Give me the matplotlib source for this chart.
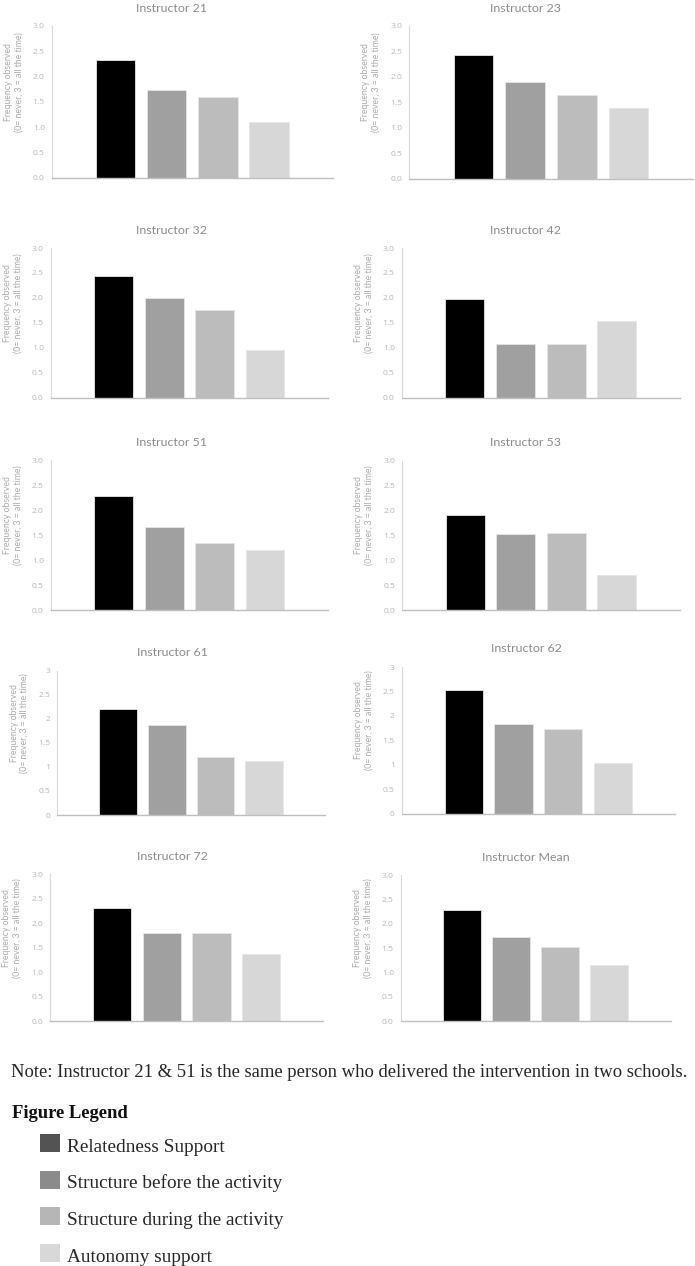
import numpy as np
import matplotlib
matplotlib.use("Agg")
import matplotlib.pyplot as plt
from matplotlib.patches import Rectangle

# --- data ---
instructors = ['Instructor 21', 'Instructor 23', 'Instructor 32', 'Instructor 42',
               'Instructor 51', 'Instructor 53', 'Instructor 61', 'Instructor 62',
               'Instructor 72', 'Instructor Mean']
relatedness = [2.33, 2.43, 2.43, 1.97, 2.29, 1.92, 2.21, 2.52, 2.32, 2.28]
structure_before = [1.73, 1.90, 2.00, 1.08, 1.66, 1.54, 1.88, 1.83, 1.79, 1.72]
structure_during = [1.59, 1.65, 1.76, 1.07, 1.35, 1.56, 1.20, 1.73, 1.79, 1.52]
autonomy = [1.11, 1.38, 0.95, 1.53, 1.21, 0.70, 1.13, 1.03, 1.36, 1.15]

series_names = ['Relatedness Support', 'Structure before the activity',
                'Structure during the activity', 'Autonomy support']
y_ticks = [0, 0.5, 1, 1.5, 2, 2.5, 3]
plain_tick_panels = ['Instructor 61', 'Instructor 62']  # these use "0, 0.5, 1 ..." labels

note = "Note: Instructor 21 & 51 is the same person who delivered the intervention in two schools."

# --- styling ---
bar_colors = ['#000000', '#a0a0a0', '#bcbcbc', '#d7d7d7']
legend_colors = ['#535353', '#8b8b8b', '#b6b6b6', '#d8d8d8']
W, H = 695, 1266

# panel boxes in pixels: x0, x1, y_top, y_bottom
boxes = [
    (51.7, 333, 26, 178), (409, 693, 26, 178.7),
    (50.7, 328, 248, 397.7), (401.7, 680, 248, 397.7),
    (50.7, 328, 460.3, 610.3), (402, 680, 460.7, 610.3),
    (57.3, 325, 670.7, 815), (401.7, 675, 667, 813.7),
    (50, 323.3, 874.3, 1021), (400.7, 670.7, 875.3, 1021),
]
col_centers = [172, 526]

chart_font = ['Lato', 'DejaVu Sans']
tick_font = ['Open Sans', 'DejaVu Sans']
serif_font = ['Liberation Serif', 'DejaVu Serif']


def fx(px):
    return px / W


def fy(py):
    return 1 - py / H


fig = plt.figure(figsize=(W / 100, H / 100), dpi=100)

values = np.array([relatedness, structure_before, structure_during, autonomy])
x = np.arange(len(series_names))

for i, name in enumerate(instructors):
    x0, x1, yt, yb = boxes[i]
    ax = fig.add_axes([fx(x0), fy(yb), (x1 - x0) / W, (yb - yt) / H])
    ax.bar(x, values[:, i], width=0.77, color=bar_colors,
           edgecolor='#e6e6e6', linewidth=0.6)
    ax.set_xlim(-1.25, 4.25)
    ax.set_ylim(0, 3)
    ax.set_xticks([])
    ax.set_yticks(y_ticks)
    if name in plain_tick_panels:
        ax.set_yticklabels([f"{t:g}" for t in y_ticks])
    else:
        ax.set_yticklabels([f"{t:.1f}" for t in y_ticks])
    ax.tick_params(axis='y', length=0, pad=5, labelsize=6.1, labelcolor='#b8b8b8')
    for lab in ax.get_yticklabels():
        lab.set_family(tick_font)
    for s in ['top', 'right']:
        ax.spines[s].set_visible(False)
    ax.spines['left'].set_color('#d9d9d9')
    ax.spines['left'].set_linewidth(0.8)
    ax.spines['bottom'].set_color('#bfbfbf')
    ax.spines['bottom'].set_linewidth(1.0)

    col = i % 2
    fig.text(fx(col_centers[col]), fy(yt - 18), name, ha='center', va='center',
             fontsize=8.9, color='#8c8c8c', family=chart_font)
    fig.text(fx(x0 - 38), fy((yt + yb) / 2 - 20),
             "Frequency observed\n(0= never, 3 = all the time)",
             rotation=90, ha='center', va='center', fontsize=6.2,
             color='#ababab', family=chart_font, linespacing=1.2)

# note and legend below the panels
fig.text(fx(11), fy(1077), note, fontsize=13.4, color='#262626',
         family=serif_font, va='baseline', ha='left')
fig.text(fx(12), fy(1118), "Figure Legend", fontsize=13.4, fontweight='bold',
         color='#111111', family=serif_font, va='baseline', ha='left')

for k, (label, c) in enumerate(zip(series_names, legend_colors)):
    base = 1152 + k * 36.5
    fig.patches.append(Rectangle((fx(40), fy(base)), 20 / W, 18 / H,
                                 transform=fig.transFigure, facecolor=c,
                                 edgecolor='none'))
    fig.text(fx(67), fy(base), label, fontsize=13.9, color='#262626',
             family=serif_font, va='baseline', ha='left')

fig.savefig('out.png', dpi=100)
